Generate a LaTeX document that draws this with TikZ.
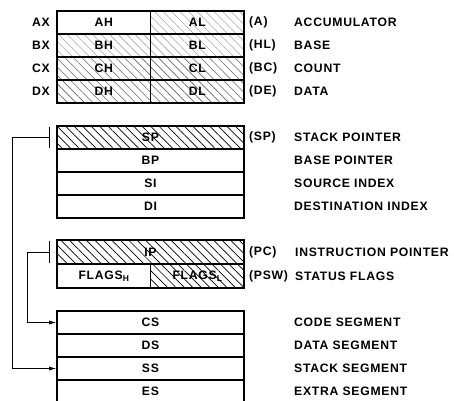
\documentclass[tikz,border=0pt]{standalone}
\usepackage{fontspec}
\setmainfont{Liberation Sans}[LetterSpace=6]
\usetikzlibrary{arrows.meta,patterns.meta}
\newcommand{\lowsub}[1]{\raisebox{-2pt}{\fontsize{8.5}{9}\selectfont #1}}

\begin{document}
\begin{tikzpicture}[x=1pt, y=-1pt,
        every node/.style={font=\fontsize{12.2}{14}\selectfont\bfseries, inner sep=0pt},
        reg/.style={draw, line width=1.6pt, minimum height=23pt, minimum width=93.5pt},
        wide/.style={reg, minimum width=187pt},
        hatchlight/.style={pattern={Lines[angle=-45, distance=6pt, line width=0.6pt]}, pattern color=black!35},
        hatchmid/.style={pattern={Lines[angle=-45, distance=6pt, line width=0.6pt]}, pattern color=black!60},
        hatchdark/.style={pattern={Lines[angle=-45, distance=6pt, line width=0.7pt]}, pattern color=black},
        side/.style={anchor=west},
        link/.style={line width=0.7pt},
        arr/.style={link, -{Latex[length=7pt, width=4pt]}}
    ]
        \useasboundingbox (0,0) rectangle (454,400);
        % general registers
        \node[reg]                (ah) at (103.75, 22.5) {AH};
        \node[reg, hatchlight]    (al) at (197.25, 22.5) {AL};
        \node[reg, hatchlight]    (bh) at (103.75, 45.5) {BH};
        \node[reg, hatchlight]    (bl) at (197.25, 45.5) {BL};
        \node[reg, hatchmid]      (ch) at (103.75, 68.5) {CH};
        \node[reg, hatchmid]      (cl) at (197.25, 68.5) {CL};
        \node[reg, hatchmid]      (dh) at (103.75, 91.5) {DH};
        \node[reg, hatchmid]      (dl) at (197.25, 91.5) {DL};
        \node[anchor=east] (ax) at (50, 22.5) {AX};
        \node[anchor=east] (bx) at (50, 45.5) {BX};
        \node[anchor=east] (cx) at (50, 68.5) {CX};
        \node[anchor=east] (dx) at (50, 91.5) {DX};
        \node[side] (a)  at (249, 22.5) {(A)};
        \node[side] (hl) at (249, 45.5) {(HL)};
        \node[side] (bc) at (249, 68.5) {(BC)};
        \node[side] (de) at (249, 91.5) {(DE)};
        \node[side] (acc)   at (294, 22.5) {ACCUMULATOR};
        \node[side] (base)  at (294, 45.5) {BASE};
        \node[side] (count) at (294, 68.5) {COUNT};
        \node[side] (data)  at (294, 91.5) {DATA};
        % pointer and index registers
        \node[wide, hatchdark] (sp) at (150.5, 137.5) {SP};
        \node[wide]            (bp) at (150.5, 160.5) {BP};
        \node[wide]            (si) at (150.5, 183.5) {SI};
        \node[wide]            (di) at (150.5, 206.5) {DI};
        \node[side] (spc)  at (249, 137.5) {(SP)};
        \node[side] (spn)  at (294, 137.5) {STACK POINTER};
        \node[side] (bpn)  at (294, 160.5) {BASE POINTER};
        \node[side] (sin)  at (294, 183.5) {SOURCE INDEX};
        \node[side] (din)  at (294, 206.5) {DESTINATION INDEX};
        % instruction pointer and flags
        \node[wide, hatchdark, minimum height=24pt] (ip) at (150.5, 252) {IP};
        \node[reg, minimum height=24pt]             (flagsh) at (103.75, 276) {FLAGS\lowsub{H}};
        \node[reg, hatchdark, minimum height=24pt]  (flagsl) at (197.25, 276) {FLAGS\lowsub{L}};
        \node[side] (pc)   at (249, 252) {(PC)};
        \node[side] (psw)  at (249, 276) {(PSW)};
        \node[side] (ipn)  at (295, 252) {INSTRUCTION POINTER};
        \node[side] (flgn) at (295, 276) {STATUS FLAGS};
        % segment registers
        \node[wide] (cs) at (150.5, 322.5) {CS};
        \node[wide] (ds) at (150.5, 345.5) {DS};
        \node[wide] (ss) at (150.5, 368.5) {SS};
        \node[wide] (es) at (150.5, 391.5) {ES};
        \node[side] (csn) at (294, 322.5) {CODE SEGMENT};
        \node[side] (dsn) at (294, 345.5) {DATA SEGMENT};
        \node[side] (ssn) at (294, 368.5) {STACK SEGMENT};
        \node[side] (esn) at (294, 391.5) {EXTRA SEGMENT};
        % links to the segments
        \coordinate (sptick) at (49, 137.5);
        \coordinate (iptick) at (49, 252);
        \draw[link] (49, 127) -- (49, 148);
        \draw[link] (49, 241) -- (49, 263);
        \draw[arr] (sptick) -- ++(-37, 0) |- (ss.west);
        \draw[arr] (iptick) -- ++(-22, 0) |- (cs.west);
    \end{tikzpicture}
\end{document}
